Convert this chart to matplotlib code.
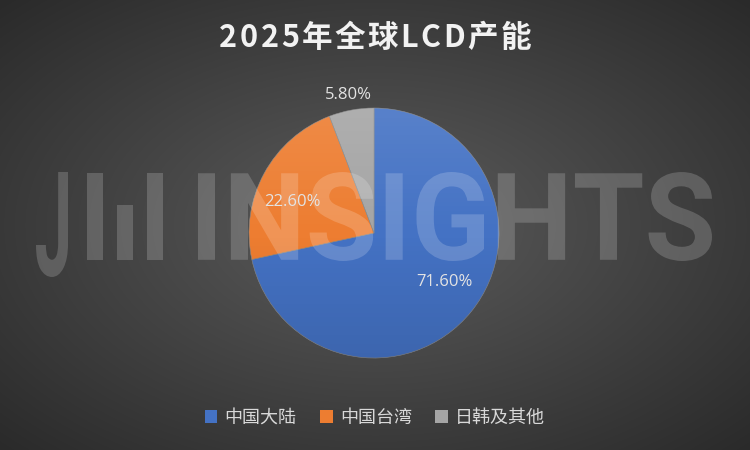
import numpy as np
import matplotlib
matplotlib.use("Agg")
from matplotlib import pyplot as plt
from matplotlib.patches import Circle, Rectangle, PathPatch, Patch
from matplotlib.textpath import TextPath
from matplotlib.font_manager import FontProperties
from matplotlib.transforms import Affine2D

# data
title = '2025年全球LCD产能'
labels = ['中国大陆', '中国台湾', '日韩及其他']
shares = [71.6, 22.6, 5.8]
colors = ['#4472C4', '#ED7D31', '#A5A5A5']

W, H = 750, 450
plt.rcParams['font.family'] = ['Noto Sans CJK SC', 'DejaVu Sans']

fig = plt.figure(figsize=(7.5, 4.5), dpi=100)

# background: radial gradient
bg = fig.add_axes([0, 0, 1, 1])
bg.set_axis_off()
yy, xx = np.mgrid[0:H, 0:W]
d = np.sqrt(((xx - 375) / 375.) ** 2 + ((yy - 225) / 225.) ** 2) / np.sqrt(2)
d = np.clip(d, 0, 1)
v = (92 - 50 * d) / 255.
img = np.dstack([v, v, v])
bg.imshow(img, extent=[0, W, 0, H], origin='upper', aspect='auto')
bg.set_xlim(0, W)
bg.set_ylim(0, H)

ax = fig.add_axes([0, 0, 1, 1])
ax.set_axis_off()
ax.patch.set_alpha(0)

cx, cy, r = 374, H - 233, 125
wedges, texts, autotexts = ax.pie(
    shares, colors=colors, startangle=90, counterclock=False,
    center=(cx, cy), radius=r, autopct='%.2f%%', pctdistance=0.69,
    wedgeprops=dict(edgecolor='#8a8a8a', linewidth=0.4),
    textprops=dict(color='#E3E3E3', fontsize=12, family='Open Sans'))

# label placement: small slice outside, others a bit off-centre
for w, t, dist, shift in zip(wedges, autotexts, [0.69, 0.70, 1.12], [4, 8, 0]):
    ang = np.deg2rad((w.theta1 + w.theta2) / 2 + shift)
    t.set_position((cx + dist * r * np.cos(ang), cy + dist * r * np.sin(ang)))
    t.set_zorder(10)

# vertical shading over the pie
g = np.linspace(0, 1, 256)[:, None]
shade = np.zeros((256, 1, 4))
shade[..., :3] = np.where(g < 0.5, 1.0, 0.0)[..., None]
shade[..., 3] = np.abs(g - 0.5) * 0.22
im = ax.imshow(shade, extent=[cx - r, cx + r, cy - r, cy + r], origin='upper',
               aspect='auto', zorder=3)
im.set_clip_path(Circle((cx, cy), r, transform=ax.transData))


def fit_text(s, box, prop, **kw):
    tp = TextPath((0, 0), s, size=100, prop=prop)
    e = tp.get_extents()
    x0, x1, y0, y1 = box
    tr = (Affine2D().translate(-e.x0, -e.y0)
          .scale((x1 - x0) / e.width, (y1 - y0) / e.height)
          .translate(x0, y0))
    ax.add_patch(PathPatch(tr.transform_path(tp), **kw))


# watermark
wm = dict(facecolor='white', edgecolor='none', alpha=0.18, zorder=5)
wprop = FontProperties(family='Roboto', weight='bold')
fit_text('INSIGHTS', (198, 712, H - 261, H - 172), wprop, **wm)
fit_text('J', (36, 68, H - 277, H - 172), wprop, **wm)
for x0, x1, top in [(87, 103, 173), (117, 133, 205), (147, 163, 173)]:
    ax.add_patch(Rectangle((x0, H - 260), x1 - x0, 260 - top, **wm))

ax.set_xlim(0, W)
ax.set_ylim(0, H)

# title with letter spacing
renderer = fig.canvas.get_renderer()
tprops = dict(fontsize=22, fontweight='bold', color='#F2F2F2', va='center')
spacing = 2.5
widths = []
for ch in title:
    t = ax.text(0, 0, ch, **tprops)
    widths.append(t.get_window_extent(renderer).width)
    t.remove()
total = sum(widths) + spacing * (len(title) - 1)
x = 375 - total / 2
for ch, wdt in zip(title, widths):
    ax.text(x, H - 38, ch, ha='left', **tprops)
    x += wdt + spacing

handles = [Patch(facecolor=c, edgecolor='none') for c in colors]
fig.legend(handles, labels, loc='center', bbox_to_anchor=(0.5, 1 - 418 / H),
           ncol=3, frameon=False, fontsize=13, labelcolor='#D9D9D9',
           handlelength=0.7, handleheight=0.7, handletextpad=0.4,
           columnspacing=1.3)

fig.savefig('out.png', dpi=100)
